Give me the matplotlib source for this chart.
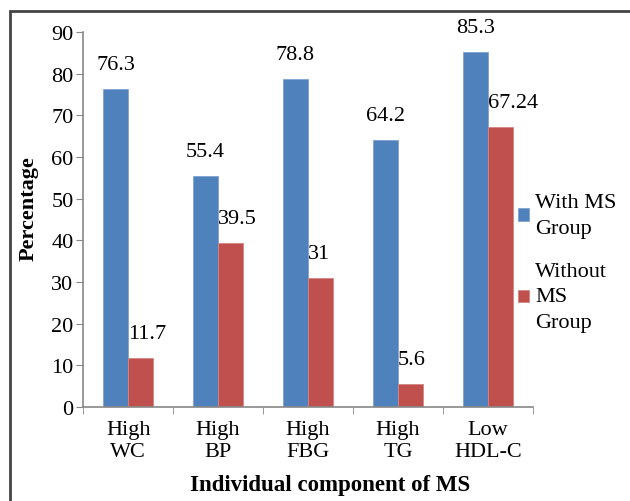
import numpy as np
import matplotlib
matplotlib.use("Agg")
import matplotlib.pyplot as plt
from matplotlib.patches import Rectangle

categories = ["High\nWC", "High\nBP", "High\nFBG", "High\nTG", "Low\nHDL-C"]
with_ms = [76.3, 55.4, 78.8, 64.2, 85.3]
without_ms = [11.7, 39.5, 31, 5.6, 67.24]
with_lbl = ["76.3", "55.4", "78.8", "64.2", "85.3"]
without_lbl = ["11.7", "39.5", "31", "5.6", "67.24"]

plt.rcParams['font.family'] = ['Liberation Serif', 'DejaVu Serif']

fig = plt.figure(figsize=(6.3, 5.02), dpi=100)
ax = fig.add_axes([0.132, 0.187, 0.714, 0.747])

x = np.arange(len(categories))
w = 0.28
blue = "#4F81BD"
red = "#C0504D"
b1 = ax.bar(x - w/2, with_ms, w, color=blue, edgecolor="#7FA3D0", linewidth=0.6, label="With MS\nGroup")
b2 = ax.bar(x + w/2, without_ms, w, color=red, edgecolor="#D48582", linewidth=0.6, label="Without\nMS\nGroup")

for xi, v, t in zip(x, with_ms, with_lbl):
    ax.text(xi - w/2, v + 3.6, t, ha="center", va="bottom", fontsize=16)
for xi, v, t in zip(x, without_ms, without_lbl):
    ax.text(xi, v + 3.6, t, ha="left", va="bottom", fontsize=16)

ax.set_xlim(-0.5, len(categories) - 0.5)
ax.set_ylim(0, 90)
ax.set_yticks(range(0, 91, 10))
ax.set_xticks(x)
ax.set_xticklabels(categories, fontsize=16, linespacing=1.25)
ax.tick_params(axis="x", length=0, pad=9)
ax.set_xticks(np.arange(-0.5, len(categories), 1), minor=True)
ax.tick_params(axis="x", which="minor", length=5, color="#888888", direction="out")
ax.tick_params(axis="y", length=5, color="#888888", labelsize=16, pad=2)

for s in ["top", "right"]:
    ax.spines[s].set_visible(False)
for s in ["left", "bottom"]:
    ax.spines[s].set_color("#888888")
    ax.spines[s].set_linewidth(1.2)

ax.set_ylabel("Percentage", fontsize=16, fontweight="bold")
ax.yaxis.set_label_coords(-0.1, 0.533)
ax.set_xlabel("Individual component of MS", fontsize=16.5, fontweight="bold")
ax.xaxis.set_label_coords(0.55, -0.178)

fig.legend(handles=[b1, b2], loc="upper left", bbox_to_anchor=(0.805, 0.635),
           frameon=False, fontsize=16, handlelength=0.5, handleheight=0.5,
           handletextpad=0.25, labelspacing=1.1, borderpad=0)
plt.setp(fig.legends[0].get_texts(), linespacing=1.45)

fig.add_artist(Rectangle((10/630, -0.1), 1.2, 0.1 + (502-12)/502, transform=fig.transFigure,
                         fill=False, edgecolor="#444444", linewidth=2, clip_on=False))

fig.savefig("out.png", dpi=100)
